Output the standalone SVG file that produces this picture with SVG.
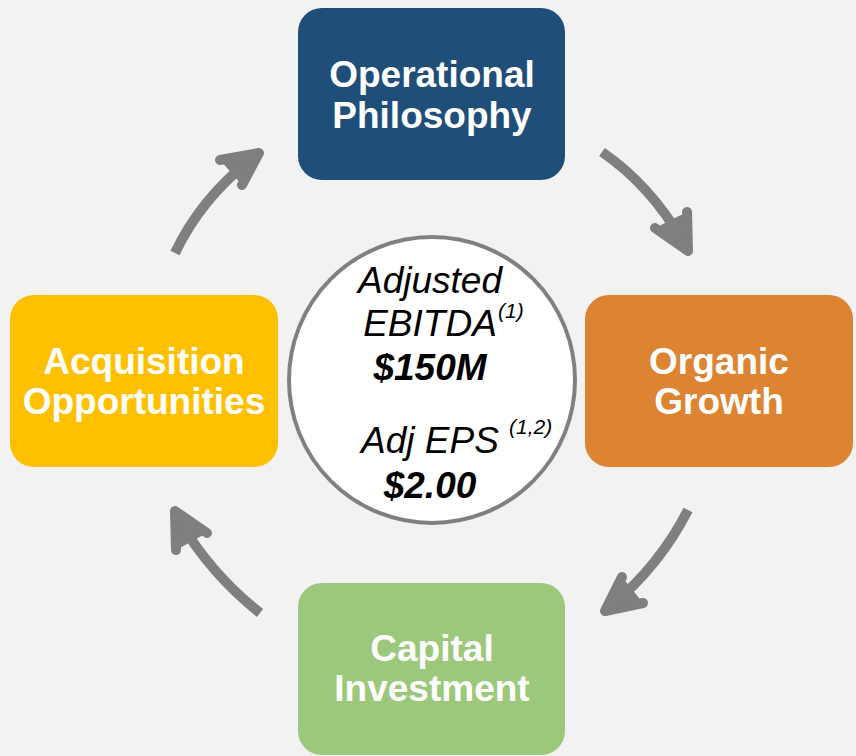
<svg xmlns="http://www.w3.org/2000/svg" width="856" height="756" viewBox="0 0 856 756">
<style>
.lbl{font-family:"Liberation Sans",Arial,sans-serif;font-weight:bold;font-size:37px;fill:#fff;text-anchor:middle}
.ctr{font-family:"Liberation Sans",Arial,sans-serif;font-style:italic;font-size:37px;fill:#000;text-anchor:middle}
.big{font-weight:bold}
.sup{font-family:"Liberation Sans",Arial,sans-serif;font-style:italic;font-size:21px;fill:#000}
.arr{fill:none;stroke:#7f7f7f;stroke-width:10}
.head{fill:#7f7f7f;stroke:#7f7f7f;stroke-width:10;stroke-linejoin:round;stroke-linecap:round}
</style>
<rect width="856" height="756" fill="#f2f2f2"/>
<g id="connectors">
<path class="arr" d="M602,152 Q650,185 682,240"/>
<path class="head" d="M655,228 L688,251 L687,212"/>
<path class="arr" d="M688,510 Q660,565 612,605"/>
<path class="head" d="M622,577 L605,611 L643,603"/>
<path class="arr" d="M260,613 Q212,575 180,522"/>
<path class="head" d="M176,550 L175,511 L207,533"/>
<path class="arr" d="M175,253 Q200,200 250,160"/>
<path class="head" d="M220,160 L259,153 L242,185"/>
</g>
<g id="operational">
<rect x="298" y="8" width="267" height="172" rx="24" fill="#1f4e79"/>
<text class="lbl" x="432" y="87">Operational</text>
<text class="lbl" x="432" y="128">Philosophy</text>
</g>
<g id="organic">
<rect x="585" y="295" width="268" height="172" rx="24" fill="#dc8431"/>
<text class="lbl" x="719" y="374">Organic</text>
<text class="lbl" x="719" y="414">Growth</text>
</g>
<g id="capital">
<rect x="298" y="583" width="267" height="172" rx="24" fill="#9cc87b"/>
<text class="lbl" x="432" y="661">Capital</text>
<text class="lbl" x="432" y="701">Investment</text>
</g>
<g id="acquisition">
<rect x="10" y="295" width="268" height="172" rx="24" fill="#ffc000"/>
<text class="lbl" x="144" y="374">Acquisition</text>
<text class="lbl" x="144" y="414">Opportunities</text>
</g>
<g id="center">
<circle cx="432" cy="380" r="143" fill="#fff" stroke="#808080" stroke-width="4"/>
<text class="ctr" x="430" y="293">Adjusted</text>
<text class="ctr" x="430" y="336">EBITDA</text>
<text class="sup" x="498" y="318">(1)</text>
<text class="ctr big" x="430" y="380">$150M</text>
<text class="ctr" x="430" y="453">Adj EPS</text>
<text class="sup" x="509" y="434">(1,2)</text>
<text class="ctr big" x="430" y="498">$2.00</text>
</g>
</svg>
